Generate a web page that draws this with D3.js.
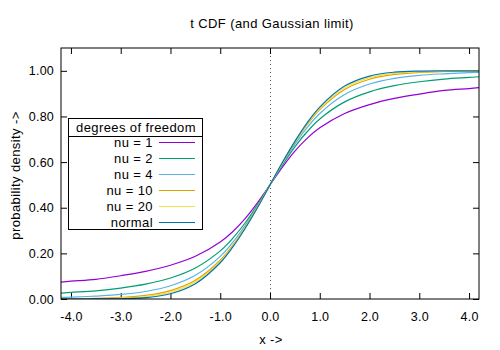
<!DOCTYPE html>
<html>
<head>
<meta charset="utf-8">
<script src="https://cdn.jsdelivr.net/npm/d3@7/dist/d3.min.js"></script>
<style>
  body { margin: 0; background: #fff; }
  text { font-family: "Liberation Sans", Arial, sans-serif; }
</style>
</head>
<body>
<div id="chart"></div>
<script>
// sample points
var xs = [-4.2, -4, -3.5, -3, -2.5, -2, -1.5, -1, -0.75, -0.5, -0.25, 0,
          0.25, 0.5, 0.75, 1, 1.5, 2, 2.5, 3, 3.5, 4, 4.2];

var nu1 = [0.074, 0.078, 0.086, 0.102, 0.121, 0.148, 0.187, 0.250, 0.295, 0.352, 0.422, 0.5,
           0.578, 0.648, 0.705, 0.750, 0.813, 0.852, 0.879, 0.898, 0.914, 0.922, 0.926];
var nu2 = [0.026, 0.029, 0.036, 0.048, 0.065, 0.092, 0.136, 0.211, 0.266, 0.333, 0.413, 0.5,
           0.587, 0.667, 0.734, 0.789, 0.864, 0.908, 0.935, 0.952, 0.964, 0.971, 0.974];
var nu4 = [0.007, 0.008, 0.013, 0.020, 0.033, 0.058, 0.104, 0.187, 0.248, 0.322, 0.407, 0.5,
           0.593, 0.678, 0.752, 0.813, 0.896, 0.942, 0.967, 0.980, 0.987, 0.992, 0.993];
var nu10 = [0.001, 0.001, 0.003, 0.007, 0.016, 0.037, 0.082, 0.170, 0.235, 0.314, 0.404, 0.5,
            0.596, 0.686, 0.765, 0.830, 0.918, 0.963, 0.984, 0.993, 0.997, 0.999, 0.999];
var nu20 = [0.0002, 0.0004, 0.001, 0.004, 0.011, 0.030, 0.075, 0.165, 0.231, 0.311, 0.403, 0.5,
            0.597, 0.689, 0.769, 0.835, 0.925, 0.970, 0.989, 0.996, 0.999, 1.0, 1.0];
var normal = [0.0, 0.0, 0.0002, 0.001, 0.006, 0.023, 0.067, 0.159, 0.227, 0.309, 0.401, 0.5,
              0.599, 0.691, 0.773, 0.841, 0.933, 0.977, 0.994, 0.999, 1.0, 1.0, 1.0];

var seriesNames = ["nu = 1", "nu = 2", "nu = 4", "nu = 10", "nu = 20", "normal"];
var seriesValues = [nu1, nu2, nu4, nu10, nu20, normal];
var seriesColors = ["#9400d3", "#009e73", "#56b4e9", "#e69f00", "#f0e442", "#0072b2"];

var xTicks = [-4, -3, -2, -1, 0, 1, 2, 3, 4];
var yTicks = [0, 0.2, 0.4, 0.6, 0.8, 1.0];

var width = 500, height = 350;
var pLeft = 61, pRight = 479, pTop = 48, pBottom = 299;
var fontSize = 13, spacing = "0.4px";

var svg = d3.select("#chart").append("svg")
    .attr("width", width)
    .attr("height", height);

var x = d3.scaleLinear().domain([-4.2, 4.2]).range([pLeft, pRight]);
var y = d3.scaleLinear().domain([0, 1.1]).range([pBottom, pTop]);

svg.append("clipPath").attr("id", "clip")
    .append("rect")
    .attr("x", pLeft).attr("y", pTop)
    .attr("width", pRight - pLeft).attr("height", pBottom - pTop);

// title and axis labels
svg.append("text")
    .attr("x", 272).attr("y", 28)
    .attr("text-anchor", "middle")
    .attr("font-size", fontSize)
    .attr("letter-spacing", spacing)
    .text("t CDF (and Gaussian limit)");

svg.append("text")
    .attr("x", 271).attr("y", 344)
    .attr("text-anchor", "middle")
    .attr("font-size", fontSize)
    .attr("letter-spacing", spacing)
    .text("x ->");

svg.append("text")
    .attr("transform", "translate(20," + ((pTop + pBottom) / 2 + 2) + ") rotate(-90)")
    .attr("text-anchor", "middle")
    .attr("font-size", fontSize)
    .attr("letter-spacing", spacing)
    .text("probability density ->");

// zero line (dotted)
svg.append("line")
    .attr("x1", x(0) + 0.5).attr("x2", x(0) + 0.5)
    .attr("y1", pTop).attr("y2", pBottom)
    .attr("stroke", "#555")
    .attr("stroke-width", 1)
    .attr("stroke-dasharray", "1,3");

// axes, ticks pointing inward, mirrored
var tickLen = 6;
var fmtX = (d) => d3.format(".1f")(d).replace("\u2212", "-");
var fmtY = (d) => d3.format(".2f")(d).replace("\u2212", "-");
var xAxisB = d3.axisBottom(x).tickValues(xTicks).tickSize(-tickLen).tickPadding(13)
    .tickFormat(fmtX);
var xAxisT = d3.axisTop(x).tickValues(xTicks).tickSize(-tickLen).tickFormat("");
var yAxisL = d3.axisLeft(y).tickValues(yTicks).tickSize(-tickLen).tickPadding(7)
    .tickFormat(fmtY);
var yAxisR = d3.axisRight(y).tickValues(yTicks).tickSize(-tickLen).tickFormat("");

function styleAxis(g) {
    g.select(".domain").remove();
    g.selectAll("line").attr("stroke", "#000");
    g.selectAll("text").attr("font-size", 12.5).attr("fill", "#000")
        .attr("letter-spacing", "0.2px")
        .style("font-family", "'Liberation Sans', Arial, sans-serif");
}

svg.append("g").attr("transform", "translate(0," + pBottom + ")").call(xAxisB).call(styleAxis);
svg.append("g").attr("transform", "translate(0," + pTop + ")").call(xAxisT).call(styleAxis);
svg.append("g").attr("transform", "translate(" + pLeft + ",0)").call(yAxisL).call(styleAxis);
svg.append("g").attr("transform", "translate(" + pRight + ",0)").call(yAxisR).call(styleAxis);

// curves
var line = d3.line()
    .x((d, i) => x(xs[i]))
    .y((d) => y(d))
    .curve(d3.curveCatmullRom.alpha(0.5));

svg.append("g").attr("clip-path", "url(#clip)")
    .selectAll("path")
    .data(seriesValues)
    .enter()
    .append("path")
    .attr("d", (d) => line(d))
    .attr("fill", "none")
    .attr("stroke", (d, i) => seriesColors[i])
    .attr("stroke-width", 1.2);

// frame
svg.append("rect")
    .attr("x", pLeft).attr("y", pTop)
    .attr("width", pRight - pLeft).attr("height", pBottom - pTop)
    .attr("fill", "none")
    .attr("stroke", "#000");

// legend
var lx = 68, ly = 118, lw = 134, lh = 111;
var legend = svg.append("g");
legend.append("rect")
    .attr("x", lx + 0.5).attr("y", ly + 0.5)
    .attr("width", lw).attr("height", lh)
    .attr("fill", "#fff")
    .attr("stroke", "#000");
legend.append("text")
    .attr("x", lx + lw / 2 + 1).attr("y", ly + 13.5)
    .attr("text-anchor", "middle")
    .attr("font-size", fontSize)
    .attr("letter-spacing", spacing)
    .text("degrees of freedom");
legend.append("line")
    .attr("x1", lx).attr("x2", lx + lw)
    .attr("y1", ly + 18.5).attr("y2", ly + 18.5)
    .attr("stroke", "#000");

var entries = legend.selectAll("g.entry")
    .data(seriesNames)
    .enter()
    .append("g")
    .attr("class", "entry")
    .attr("transform", (d, i) => "translate(0," + (142.5 + i * 16) + ")");
entries.append("text")
    .attr("x", 153)
    .attr("y", 4.5)
    .attr("text-anchor", "end")
    .attr("font-size", fontSize)
    .attr("letter-spacing", spacing)
    .text((d) => d);
entries.append("line")
    .attr("x1", 159).attr("x2", 195)
    .attr("y1", 0).attr("y2", 0)
    .attr("stroke", (d, i) => seriesColors[i])
    .attr("stroke-width", 1.2);
</script>
</body>
</html>
